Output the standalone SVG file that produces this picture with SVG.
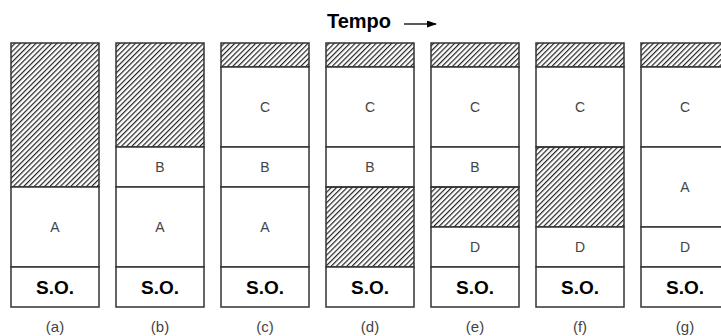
<svg xmlns="http://www.w3.org/2000/svg" width="721" height="336" viewBox="0 0 721 336">
<defs>
<pattern id="hatch" patternUnits="userSpaceOnUse" width="3.7" height="10" patternTransform="rotate(45)">
<rect x="0" y="0" width="1.2" height="10" fill="#222"/>
</pattern>
<marker id="ah" markerWidth="10" markerHeight="7" refX="9" refY="3.5" orient="auto" markerUnits="userSpaceOnUse">
<path d="M0,0 L10,3.5 L0,7 Z" fill="#000"/>
</marker>
</defs>
<style>
.box{fill:#fff;stroke:#333;stroke-width:1.5}
.h{fill:url(#hatch);stroke:#333;stroke-width:1.5}
.l{font-family:"Liberation Sans",Arial,sans-serif;font-size:14px;fill:#444;text-anchor:middle}
.so{font-family:"Liberation Sans",Arial,sans-serif;font-size:19px;font-weight:bold;fill:#000;text-anchor:middle}
.cap{font-family:"Liberation Sans",Arial,sans-serif;font-size:15px;fill:#444;text-anchor:middle}
</style>
<rect width="721" height="336" fill="#fff"/>
<text x="359" y="28" font-family="'Liberation Sans',Arial,sans-serif" font-size="20" font-weight="bold" text-anchor="middle">Tempo</text>
<g id="connectors">
<line x1="404" y1="24" x2="436" y2="24" stroke="#000" stroke-width="1.3" marker-end="url(#ah)"/>
</g>
<g id="a">
<rect class="h" x="11" y="43" width="88" height="144"/>
<rect class="box" x="11" y="187" width="88" height="80"/><text class="l" x="55" y="232">A</text>
<rect class="box" x="11" y="267" width="88" height="40"/><text class="so" x="55" y="294">S.O.</text>
<text class="cap" x="55" y="332">(a)</text>
</g>
<g id="b">
<rect class="h" x="116" y="43" width="88" height="104"/>
<rect class="box" x="116" y="147" width="88" height="40"/><text class="l" x="160" y="172">B</text>
<rect class="box" x="116" y="187" width="88" height="80"/><text class="l" x="160" y="232">A</text>
<rect class="box" x="116" y="267" width="88" height="40"/><text class="so" x="160" y="294">S.O.</text>
<text class="cap" x="160" y="332">(b)</text>
</g>
<g id="c">
<rect class="h" x="221" y="43" width="88" height="24"/>
<rect class="box" x="221" y="67" width="88" height="80"/><text class="l" x="265" y="112">C</text>
<rect class="box" x="221" y="147" width="88" height="40"/><text class="l" x="265" y="172">B</text>
<rect class="box" x="221" y="187" width="88" height="80"/><text class="l" x="265" y="232">A</text>
<rect class="box" x="221" y="267" width="88" height="40"/><text class="so" x="265" y="294">S.O.</text>
<text class="cap" x="265" y="332">(c)</text>
</g>
<g id="d">
<rect class="h" x="326" y="43" width="88" height="24"/>
<rect class="box" x="326" y="67" width="88" height="80"/><text class="l" x="370" y="112">C</text>
<rect class="box" x="326" y="147" width="88" height="40"/><text class="l" x="370" y="172">B</text>
<rect class="h" x="326" y="187" width="88" height="80"/>
<rect class="box" x="326" y="267" width="88" height="40"/><text class="so" x="370" y="294">S.O.</text>
<text class="cap" x="370" y="332">(d)</text>
</g>
<g id="e">
<rect class="h" x="431" y="43" width="88" height="24"/>
<rect class="box" x="431" y="67" width="88" height="80"/><text class="l" x="475" y="112">C</text>
<rect class="box" x="431" y="147" width="88" height="40"/><text class="l" x="475" y="172">B</text>
<rect class="h" x="431" y="187" width="88" height="40"/>
<rect class="box" x="431" y="227" width="88" height="40"/><text class="l" x="475" y="252">D</text>
<rect class="box" x="431" y="267" width="88" height="40"/><text class="so" x="475" y="294">S.O.</text>
<text class="cap" x="475" y="332">(e)</text>
</g>
<g id="f">
<rect class="h" x="536" y="43" width="88" height="24"/>
<rect class="box" x="536" y="67" width="88" height="80"/><text class="l" x="580" y="112">C</text>
<rect class="h" x="536" y="147" width="88" height="80"/>
<rect class="box" x="536" y="227" width="88" height="40"/><text class="l" x="580" y="252">D</text>
<rect class="box" x="536" y="267" width="88" height="40"/><text class="so" x="580" y="294">S.O.</text>
<text class="cap" x="580" y="332">(f)</text>
</g>
<g id="g">
<rect class="h" x="641" y="43" width="88" height="24"/>
<rect class="box" x="641" y="67" width="88" height="80"/><text class="l" x="685" y="112">C</text>
<rect class="box" x="641" y="147" width="88" height="80"/><text class="l" x="685" y="192">A</text>
<rect class="box" x="641" y="227" width="88" height="40"/><text class="l" x="685" y="252">D</text>
<rect class="box" x="641" y="267" width="88" height="40"/><text class="so" x="685" y="294">S.O.</text>
<text class="cap" x="685" y="332">(g)</text>
</g>
</svg>
